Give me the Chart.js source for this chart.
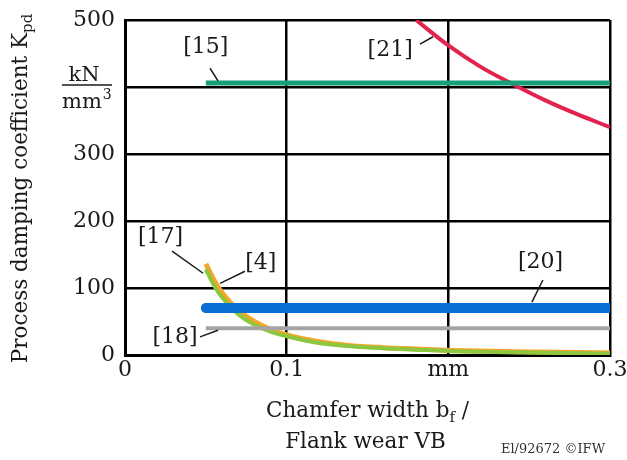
<!DOCTYPE html>
<html>
<head>
<meta charset="utf-8">
<script src="https://cdn.jsdelivr.net/npm/chart.js@4"></script>
<style>
  html, body { margin: 0; padding: 0; background: #fff; }
  #wrap { width: 627px; height: 460px; position: relative; }
</style>
</head>
<body>
<div id="wrap"><canvas id="kpd" width="627" height="460"></canvas></div>
<script>
// values
const ref15X = [0.05, 0.3];
const ref15Y = [406, 406];
const ref21X = [0.18, 0.2, 0.22, 0.24, 0.26, 0.28, 0.3];
const ref21Y = [500, 462, 430, 404, 380, 359, 340];
const ref20X = [0.05, 0.3];
const ref20Y = [70, 70];
const ref18X = [0.05, 0.3];
const ref18Y = [40, 40];
const ref17X = [0.05, 0.055, 0.06, 0.07, 0.08, 0.09, 0.1, 0.12, 0.14, 0.16, 0.18, 0.2, 0.24, 0.3];
const ref17Y = [128, 104, 86, 61, 45, 35, 28, 18, 13, 10, 8, 6, 4, 2];
const ref4X = [0.05, 0.055, 0.06, 0.07, 0.08, 0.09, 0.1, 0.12, 0.14, 0.16, 0.18, 0.2, 0.24, 0.3];
const ref4Y = [136, 112, 93, 67, 50, 38, 30, 20, 14, 11, 9, 7, 5, 3];

// reference labels: text position and leader line, in data units
const refNames = ["[15]", "[21]", "[17]", "[4]", "[20]", "[18]"];
const refTextX = [0.050, 0.164, 0.022, 0.084, 0.257, 0.031];
const refTextY = [460, 455, 175, 137, 139, 27];
const refLineFrom = [[0.0526, 428], [0.1825, 464], [0.0291, 155], [0.0742, 125], [0.2585, 112], [0.0464, 27]];
const refLineTo = [[0.0575, 409], [0.1905, 475], [0.0483, 122], [0.0588, 107], [0.2517, 79], [0.0575, 37]];

const xTicks = [0, 0.1, 0.2, 0.3];
const xTickText = ["0", "0.1", "mm", "0.3"];
const yTicks = [0, 100, 200, 300, 400, 500];

const serif = "'DejaVu Serif', serif";
const ink = "#1a1a1a";

const pts = (xs, ys) => xs.map((x, i) => ({ x, y: ys[i] }));

const line = (label, xs, ys, color, width, cap = "butt") => ({
  label,
  data: pts(xs, ys),
  borderColor: color,
  borderWidth: width,
  borderCapStyle: cap,
  pointRadius: 0,
  cubicInterpolationMode: "monotone",
  fill: false
});

const sub = (ctx, parts, x, y, size) => {
  // parts: [text, isSub]
  let cx = x;
  parts.forEach(([t, s]) => {
    ctx.font = (s ? Math.round(size * 0.68) : size) + "px " + serif;
    ctx.fillText(t, cx, s ? y + size * 0.22 : y);
    cx += ctx.measureText(t).width;
  });
  return cx - x;
};

const widthOf = (ctx, parts, size) => {
  let w = 0;
  parts.forEach(([t, s]) => {
    ctx.font = (s ? Math.round(size * 0.68) : size) + "px " + serif;
    w += ctx.measureText(t).width;
  });
  return w;
};

const decor = {
  id: "decor",
  afterDatasetsDraw(chart) {
    const { ctx, scales: { x, y }, chartArea: a } = chart;
    ctx.save();
    ctx.fillStyle = ink;
    ctx.strokeStyle = ink;

    // reference labels
    ctx.font = "22px " + serif;
    ctx.textAlign = "center";
    ctx.textBaseline = "middle";
    refNames.forEach((n, i) => {
      ctx.fillText(n, x.getPixelForValue(refTextX[i]), y.getPixelForValue(refTextY[i]));
      ctx.lineWidth = 1.5;
      ctx.beginPath();
      ctx.moveTo(x.getPixelForValue(refLineFrom[i][0]), y.getPixelForValue(refLineFrom[i][1]));
      ctx.lineTo(x.getPixelForValue(refLineTo[i][0]), y.getPixelForValue(refLineTo[i][1]));
      ctx.stroke();
    });

    // unit fraction at 400
    const fy = y.getPixelForValue(400);
    ctx.font = "21px " + serif;
    ctx.textBaseline = "alphabetic";
    ctx.fillText("kN", 84, fy - 6);
    ctx.lineWidth = 1.3;
    ctx.beginPath();
    ctx.moveTo(62, fy - 2);
    ctx.lineTo(112, fy - 2);
    ctx.stroke();
    ctx.textAlign = "left";
    ctx.fillText("mm", 62, fy + 21);
    const mw = ctx.measureText("mm").width;
    ctx.font = "14px " + serif;
    ctx.fillText("3", 62 + mw + 1, fy + 12);

    // x title
    const cx = (a.left + a.right) / 2;
    const l1 = [["Chamfer width b", false], ["f", true], [" /", false]];
    const w1 = widthOf(ctx, l1, 21.5);
    sub(ctx, l1, cx - w1 / 2, 417, 21.5);
    ctx.font = "21.5px " + serif;
    ctx.textAlign = "center";
    ctx.fillText("Flank wear VB", cx - 2, 448);

    // y title
    ctx.save();
    ctx.translate(27, (a.top + a.bottom) / 2 + 1);
    ctx.rotate(-Math.PI / 2);
    ctx.textAlign = "left";
    const yl = [["Process damping coefficient K", false], ["pd", true]];
    const wy = widthOf(ctx, yl, 21.5);
    sub(ctx, yl, -wy / 2, 0, 21.5);
    ctx.restore();

    // footer
    ctx.font = "13px " + serif;
    ctx.fillStyle = "#333";
    ctx.textAlign = "right";
    ctx.fillText("El/92672 \u00a9IFW", 605, 453);
    ctx.restore();
  }
};

new Chart(document.getElementById("kpd"), {
  type: "line",
  data: {
    datasets: [
      line("[15]", ref15X, ref15Y, "#16a07a", 5),
      line("[21]", ref21X, ref21Y, "#e1234d", 4),
      line("[18]", ref18X, ref18Y, "#a4a4a4", 4),
      line("[20]", ref20X, ref20Y, "#0a6fd2", 10, "round"),
      line("[17]", ref17X, ref17Y, "#8dc63f", 4),
      line("[4]", ref4X, ref4Y, "#f4a62a", 5)
    ]
  },
  options: {
    responsive: false,
    animation: false,
    layout: { padding: { top: 20, right: 17, left: 0, bottom: 0 } },
    plugins: { legend: { display: false }, tooltip: { enabled: false } },
    scales: {
      x: {
        type: "linear",
        min: 0,
        max: 0.3,
        afterBuildTicks: (s) => { s.ticks = xTicks.map((v) => ({ value: v })); },
        afterFit: (s) => { s.height = 105; s.paddingLeft = 0; s.paddingRight = 0; },
        ticks: {
          font: { family: serif, size: 22 },
          color: ink,
          padding: 2,
          maxRotation: 0,
          callback: (v) => xTickText[xTicks.indexOf(v)] ?? ""
        },
        grid: { color: "#000", lineWidth: 2.5, drawTicks: false },
        border: { color: "#000", width: 3 }
      },
      y: {
        min: 0,
        max: 500,
        afterBuildTicks: (s) => { s.ticks = yTicks.map((v) => ({ value: v })); },
        afterFit: (s) => { s.width = 125; s.paddingTop = 0; s.paddingBottom = 0; },
        ticks: {
          font: { family: serif, size: 22 },
          color: ink,
          padding: 10,
          callback: (v) => (v === 400 ? "" : String(v))
        },
        grid: { color: "#000", lineWidth: 2.5, drawTicks: false },
        border: { color: "#000", width: 3 }
      }
    }
  },
  plugins: [decor]
});
</script>
</body>
</html>
